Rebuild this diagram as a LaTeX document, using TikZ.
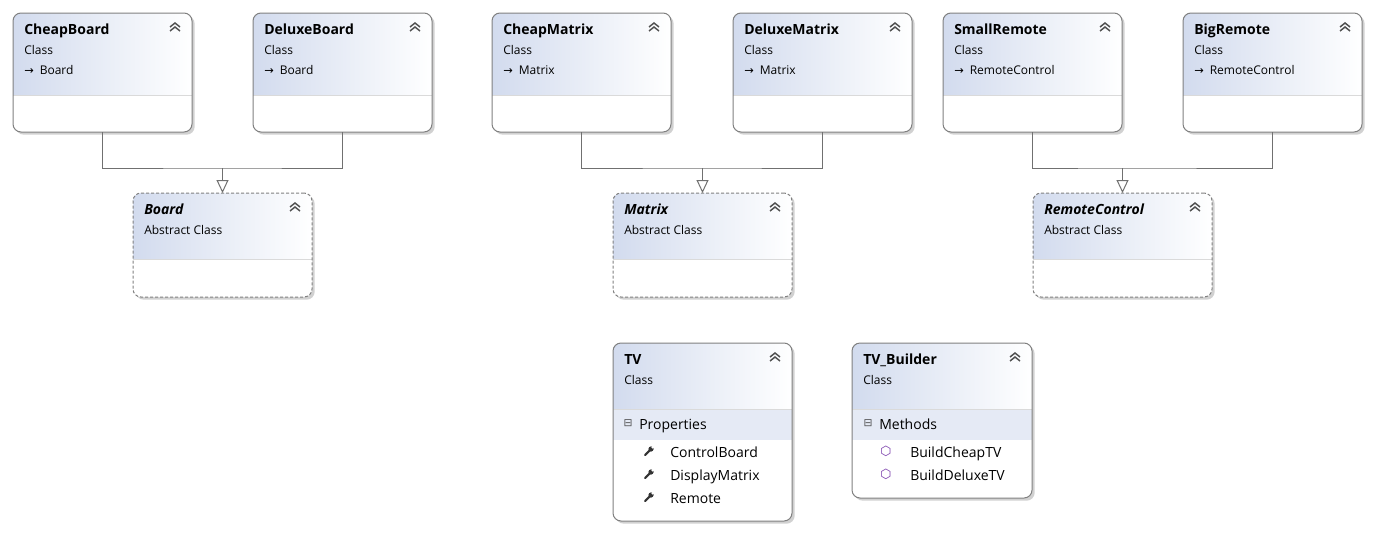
\documentclass[tikz,border=0pt]{standalone}
\usepackage{fontspec}
\setmainfont{Open Sans}
\newfontfamily\symfont{DejaVu Sans}
\usetikzlibrary{arrows.meta,shadows}

\definecolor{hdrblue}{RGB}{210,219,238}
\definecolor{bandblue}{RGB}{229,234,245}
\definecolor{edgegray}{RGB}{128,128,128}
\definecolor{linegray}{RGB}{112,112,112}
\definecolor{sepgray}{RGB}{218,218,218}
\definecolor{chevgray}{RGB}{80,80,80}
\definecolor{methpurple}{RGB}{120,60,170}

\tikzset{
	box/.style={draw=edgegray, line width=0.75pt, rounded corners=6pt, fill=white, anchor=north west, inner sep=0pt, outer sep=0pt, minimum width=134.25pt, drop shadow={shadow xshift=2pt, shadow yshift=-2pt, fill=black!18, opacity=1}},
	hdr/.style 2 args={path picture={
		\fill[sharp corners, left color=hdrblue, right color=white] (path picture bounding box.north west) rectangle ([yshift=-#1]path picture bounding box.north east);
		\fill[sharp corners, bandblue] ([yshift=-#1]path picture bounding box.north west) rectangle ([yshift=-#1-#2]path picture bounding box.north east);
		\draw[sharp corners, solid, sepgray, line width=0.75pt] ([yshift=-#1]path picture bounding box.north west) -- ([yshift=-#1]path picture bounding box.north east);}},
	cls/.style={box, minimum height=89.25pt, hdr={61.5pt}{0pt}},
	abs/.style={box, dash pattern=on 2.25pt off 1.5pt, minimum height=78pt, hdr={49.5pt}{0pt}},
	ttl/.style={anchor=base west, inner sep=0pt, font=\fontsize{10.5}{12}\selectfont\bfseries},
	sub/.style={anchor=base west, inner sep=0pt, font=\fontsize{9}{11}\selectfont},
	mem/.style={anchor=base west, inner sep=0pt, font=\fontsize{10.5}{12}\selectfont},
	icon/.style={inner sep=0pt},
	chev/.style={draw=chevgray, line width=1.1pt},
	wrench/.style={draw=black!80, line width=1.6pt, line cap=round},
	gen/.style={draw=linegray, line width=0.75pt},
	inh/.style={gen, -{Triangle[open, length=9.75pt, width=9pt, fill=white]}}
}

\begin{document}
\begin{tikzpicture}[x=0.75pt, y=-0.75pt]
	\useasboundingbox (0,0) rectangle (1374,532);

	\foreach \n/\t/\b/\x in {cb/CheapBoard/Board/13, db/DeluxeBoard/Board/253, cm/CheapMatrix/Matrix/492, dm/DeluxeMatrix/Matrix/733, sr/SmallRemote/RemoteControl/943, br/BigRemote/RemoteControl/1183} {
		\node[cls] (\n) at (\x,13) {};
		\node[ttl] (\n-t) at ([shift={(11,21)}]\n.north west) {\t};
		\node[sub] (\n-k) at ([shift={(11,41)}]\n.north west) {Class};
		\node[sub] (\n-b) at ([shift={(11,61)}]\n.north west) {{\symfont\fontsize{8.5}{8}\selectfont →}\hspace{4.5pt}\b};
	}

	\foreach \n/\t/\x in {bd/Board/133, mx/Matrix/613, rc/RemoteControl/1033} {
		\node[abs] (\n) at (\x,193) {};
		\node[ttl, font=\fontsize{10.5}{12}\selectfont\bfseries\itshape] (\n-t) at ([shift={(11,21)}]\n.north west) {\t};
		\node[sub] (\n-k) at ([shift={(11,41)}]\n.north west) {Abstract Class};
	}

	\node[box, minimum height=133.5pt, hdr={49.5pt}{23.25pt}] (tv) at (613,343) {};
	\node[ttl] (tv-t) at ([shift={(11,21)}]tv.north west) {TV};
	\node[sub] (tv-k) at ([shift={(11,41)}]tv.north west) {Class};
	\node[icon, text=chevgray, font=\symfont\fontsize{8}{8}\selectfont] (tv-c) at ([shift={(15,80)}]tv.north west) {⊟};
	\node[mem] (tv-p) at ([shift={(26,86)}]tv.north west) {Properties};
	\foreach \m/\t/\i in {1/ControlBoard/0, 2/DisplayMatrix/1, 3/Remote/2} {
		\coordinate (tv-i\m) at ([shift={(36,108+23*\i)}]tv.north west);
		\draw[wrench] ([shift={(-4,4)}]tv-i\m) -- ([shift={(1,-1)}]tv-i\m);
		\fill[black!80] ([shift={(2,-2)}]tv-i\m) circle[radius=2.6];
		\fill[white] ([shift={(3.5,-3.5)}]tv-i\m) circle[radius=1.1];
		\node[mem] (tv-m\m) at ([shift={(57,114+23*\i)}]tv.north west) {\t};
	}

	\node[box, minimum width=135pt, minimum height=116.25pt, hdr={49.5pt}{23.25pt}] (tvb) at (852,343) {};
	\node[ttl] (tvb-t) at ([shift={(11,21)}]tvb.north west) {TV\_Builder};
	\node[sub] (tvb-k) at ([shift={(11,41)}]tvb.north west) {Class};
	\node[icon, text=chevgray, font=\symfont\fontsize{8}{8}\selectfont] (tvb-c) at ([shift={(16,80)}]tvb.north west) {⊟};
	\node[mem] (tvb-p) at ([shift={(27,86)}]tvb.north west) {Methods};
	\foreach \m/\t/\i in {1/BuildCheapTV/0, 2/BuildDeluxeTV/1} {
		\node[icon, text=methpurple, font=\symfont\fontsize{9.5}{9}\selectfont] (tvb-i\m) at ([shift={(34,108+23*\i)}]tvb.north west) {⬡};
		\node[mem] (tvb-m\m) at ([shift={(58,114+23*\i)}]tvb.north west) {\t};
	}

	\foreach \n in {cb, db, cm, dm, sr, br, bd, mx, rc, tv, tvb}
		\draw[chev] ([shift={(-22,14)}]\n.north east) -- ++(5,-4) -- ++(5,4) ++(-10,4) -- ++(5,-4) -- ++(5,4);

	\foreach \a/\b/\p in {cb/db/bd, cm/dm/mx, sr/br/rc} {
		\coordinate (\p-j) at ([yshift=18.75pt]\p.north);
		\draw[gen] (\a.south) |- (\p-j) -| (\b.south);
		\draw[inh] (\p-j) -- (\p.north);
	}
\end{tikzpicture}
\end{document}
